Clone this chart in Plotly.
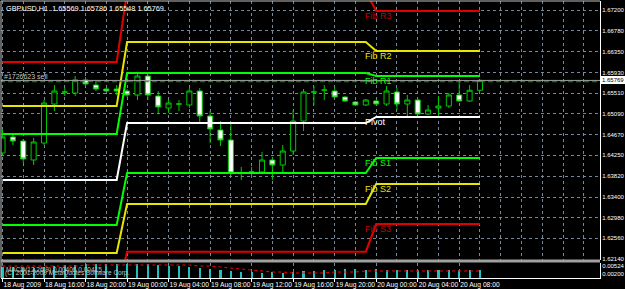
import plotly.graph_objects as go

W, H = 625, 289

# ---------------- data ----------------
bar_index = list(range(47))
opens  = [1.64294,1.64619,1.64538,1.64152,1.64497,1.65290,1.65534,1.65513,1.65778,1.65676,1.65595,1.65595,
          1.65554,1.65473,1.65859,1.65452,1.65209,1.65290,1.65270,1.65554,1.65046,1.64762,1.64558,1.63888,
          1.63908,1.63908,1.64152,1.64050,1.64335,1.64944,1.65534,1.65574,1.65554,1.65432,1.65331,1.65270,
          1.65351,1.65290,1.65534,1.65290,1.65371,1.65087,1.65209,1.65249,1.65473,1.65351,1.65569]
highs  = [1.64782,1.64660,1.64579,1.64599,1.65371,1.65676,1.65635,1.65859,1.65839,1.65757,1.65615,1.65676,
          1.65595,1.65900,1.65880,1.65554,1.65371,1.65371,1.65615,1.65615,1.65148,1.64944,1.64904,1.64010,
          1.64010,1.64315,1.64213,1.64457,1.65168,1.65595,1.65656,1.65676,1.65635,1.65452,1.65351,1.65391,
          1.65371,1.65656,1.65615,1.65473,1.65412,1.65270,1.65452,1.65513,1.65778,1.65676,1.65786]
lows   = [1.64254,1.64457,1.64091,1.64050,1.64457,1.65148,1.65452,1.65452,1.65656,1.65554,1.65534,1.65473,
          1.65432,1.65371,1.65371,1.65107,1.65107,1.65148,1.65209,1.64904,1.64497,1.64436,1.63847,1.63746,
          1.63786,1.63888,1.63746,1.63908,1.64254,1.64741,1.65270,1.65371,1.65412,1.65331,1.65249,1.65249,
          1.65270,1.65249,1.65168,1.65046,1.65066,1.65066,1.65046,1.65209,1.65331,1.65331,1.65548]
closes = [1.64619,1.64538,1.64172,1.64518,1.65310,1.65554,1.65534,1.65778,1.65696,1.65595,1.65554,1.65554,
          1.65473,1.65859,1.65473,1.65229,1.65310,1.65290,1.65554,1.65046,1.64782,1.64558,1.63888,1.63888,
          1.63908,1.64152,1.64050,1.64335,1.64944,1.65534,1.65534,1.65574,1.65432,1.65351,1.65270,1.65371,
          1.65290,1.65554,1.65290,1.65371,1.65087,1.65168,1.65249,1.65473,1.65351,1.65569,1.65769]

# daily Fibonacci pivot levels (18 Aug, 19 Aug, 20 Aug) and first bar of each day
day_first_bar = [0, 12, 36]
fib_r3 = [1.66143, 1.67566, 1.67180]
fib_r2 = [1.65249, 1.66550, 1.66367]
fib_r1 = [1.64680, 1.65920, 1.65859]
pivot  = [1.63746, 1.64904, 1.65026]
fib_s1 = [1.62831, 1.63888, 1.64193]
fib_s2 = [1.62262, 1.63258, 1.63664]
fib_s3 = [1.61348, 1.62290, 1.62851]

bid_price = 1.65769
sell_order_price = 1.65743

price_ticks = [1.67200,1.66780,1.66350,1.65930,1.65510,1.65090,1.64670,1.64250,1.63820,1.63400,1.62980,1.62560,1.62140]
time_tick_bars = [0,4,8,12,16,20,24,28,32,36,40,44]
time_tick_labels = ["18 Aug 2009","18 Aug 16:00","18 Aug 20:00","19 Aug 00:00","19 Aug 04:00","19 Aug 08:00",
                    "19 Aug 12:00","19 Aug 16:00","19 Aug 20:00","20 Aug 00:00","20 Aug 04:00","20 Aug 08:00"]

macd_hist = [0.00484,0.00484,0.00443,0.00443,0.00484,0.00524,0.00565,0.00565,0.00605,0.00605,0.00605,0.00605,
             0.00605,0.00605,0.00605,0.00565,0.00524,0.00524,0.00484,0.00443,0.00403,0.00362,0.00322,0.00281,
             0.00281,0.00241,0.00281,0.00241,0.00281,0.00322,0.00322,0.00362,0.00362,0.00403,0.00403,0.00362,
             0.00403,0.00362,0.00362,0.00362,0.00362,0.00362,0.00362,0.00362,0.00362,0.00362,0.00362]
macd_signal = [0.00524,0.00524,0.00524,0.00524,0.00524,0.00524,0.00524,0.00524,0.00565,0.00565,0.00565,0.00565,
               0.00565,0.00565,0.00565,0.00565,0.00565,0.00565,0.00565,0.00524,0.00524,0.00484,0.00443,0.00403,
               0.00362,0.00322,0.00281,0.00281,0.00241,0.00241,0.00241,0.00241,0.00281,0.00281,0.00281,0.00322,
               0.00322,0.00322,0.00322,0.00322,0.00322,0.00322,0.00322,0.00322,0.00322,0.00322,0.00322]
macd_ticks = [0.00524, 0.00200]

# ---------------- helpers ----------------
def px_x(p): return p / W
def px_y(p): return 1 - p / H

def per_bar(levels):
    out = []
    for i in bar_index:
        d = 0
        for k, s in enumerate(day_first_bar):
            if i >= s:
                d = k
        out.append(levels[d])
    return out

FONT = "Liberation Sans"
GREEN = "#00c800"
AXFONT = 6

fig = go.Figure()

# pivot lines
level_styles = [(fib_r3, "#e00000", "Fib R3"), (fib_r2, "#e6e600", "Fib R2"), (fib_r1, "#00ff00", "Fib R1"),
                (pivot, "#ffffff", "Pivot"), (fib_s1, "#00ff00", "Fib S1"), (fib_s2, "#e6e600", "Fib S2"),
                (fib_s3, "#e00000", "Fib S3")]
for lv, col, name in level_styles:
    fig.add_trace(go.Scatter(x=bar_index, y=per_bar(lv), mode="lines",
                             line=dict(color=col, width=2), xaxis="x", yaxis="y",
                             hoverinfo="skip", showlegend=False))

# bid line and order line
fig.add_trace(go.Scatter(x=[-1, 60], y=[bid_price, bid_price], mode="lines",
                         line=dict(color="#a0a0a0", width=1), xaxis="x", yaxis="y",
                         hoverinfo="skip", showlegend=False))
fig.add_trace(go.Scatter(x=[-1, 60], y=[sell_order_price, sell_order_price], mode="lines",
                         line=dict(color="#00a000", width=1, dash="5px,3px"), xaxis="x", yaxis="y",
                         hoverinfo="skip", showlegend=False))

# candles
fig.add_trace(go.Candlestick(x=bar_index, open=opens, high=highs, low=lows, close=closes,
                             increasing=dict(line=dict(color=GREEN, width=1), fillcolor="#000000"),
                             decreasing=dict(line=dict(color=GREEN, width=1), fillcolor="#ffffff"),
                             whiskerwidth=0, xaxis="x", yaxis="y", showlegend=False, hoverinfo="skip"))

# MACD
fig.add_trace(go.Bar(x=bar_index, y=macd_hist, width=0.2, marker=dict(color="#20c0c0", line=dict(width=0)),
                     xaxis="x2", yaxis="y2", showlegend=False, hoverinfo="skip"))
fig.add_trace(go.Scatter(x=bar_index, y=macd_signal, mode="lines",
                         line=dict(color="#ff0000", width=1, dash="dot"),
                         xaxis="x2", yaxis="y2", showlegend=False, hoverinfo="skip"))

xr = [(1 - 2.5) / 10.38, (600 - 2.5) / 10.38]
grid = dict(showgrid=True, gridcolor="#778899", gridwidth=1, griddash="dot")

fig.update_layout(
    width=W, height=H, margin=dict(l=0, r=0, t=0, b=0, autoexpand=False),
    paper_bgcolor="#000000", plot_bgcolor="#000000",
    font=dict(family=FONT, size=7, color="#ffffff"),
    showlegend=False, bargap=0,
    xaxis=dict(domain=[px_x(1), px_x(600)], range=xr, anchor="y", tickvals=list(range(0, 60, 2)),
               showticklabels=False, ticks="", zeroline=False, rangeslider=dict(visible=False),
               automargin=False, **grid),
    yaxis=dict(domain=[px_y(260), px_y(1)], range=[1.62120, 1.67383], side="right", anchor="x",
               tickvals=price_ticks, ticktext=[f"{v:.5f}" for v in price_ticks],
               ticks="", showline=True, linecolor="#ffffff",
               zeroline=False, automargin=False,
               tickfont=dict(size=AXFONT, color="#ffffff", family=FONT), **grid),
    xaxis2=dict(domain=[px_x(1), px_x(600)], range=xr, anchor="y2", matches="x",
                tickvals=time_tick_bars, ticktext=time_tick_labels, ticklabelposition="outside right",
                tickangle=0, ticks="outside", ticklen=3, tickcolor="#ffffff", showline=True, linecolor="#ffffff",
                tickfont=dict(size=6.7, color="#ffffff", family=FONT), zeroline=False, automargin=False,
                showgrid=True, gridcolor="#778899", griddash="dot"),
    yaxis2=dict(domain=[px_y(278), px_y(263)], range=[0.00038, 0.00646], side="right", anchor="x2",
                tickvals=macd_ticks, ticktext=[f"{v:.5f}" for v in macd_ticks],
                ticks="", showline=True, linecolor="#ffffff",
                zeroline=False, showgrid=False, automargin=False,
                tickfont=dict(size=AXFONT, color="#ffffff", family=FONT)),
)

# frame & separator
fig.add_shape(type="line", xref="paper", yref="paper", x0=px_x(1), x1=px_x(600), y0=px_y(1), y1=px_y(1),
              line=dict(color="#c0c0c0", width=1))
fig.add_shape(type="line", xref="paper", yref="paper", x0=px_x(1), x1=px_x(1), y0=px_y(1), y1=px_y(278),
              line=dict(color="#c0c0c0", width=1))
fig.add_shape(type="rect", xref="paper", yref="paper", x0=px_x(1), x1=px_x(600), y0=px_y(262.5), y1=px_y(259.5),
              line=dict(width=0), fillcolor="#a0a0a0")

# pivot labels
for lv, col, name in level_styles:
    fig.add_annotation(x=34.7, y=lv[2], xref="x", yref="y", text=name, showarrow=False,
                       xanchor="left", yanchor="top", yshift=2,
                       font=dict(size=9, color=col if name not in ("Fib R3", "Fib S3") else "#c80000", family=FONT))

# texts
fig.add_annotation(x=px_x(4), y=px_y(2), xref="paper", yref="paper", showarrow=False, xanchor="left", yanchor="top",
                   text="GBPUSD,H1  1.65569 1.65786 1.65548 1.65769", font=dict(size=7.3, color="#ffffff", family=FONT))
fig.add_annotation(x=-0.05, y=sell_order_price, xref="x", yref="y", showarrow=False, xanchor="left", yanchor="bottom",
                   yshift=0, text="#1726623 sell", font=dict(size=7, color="#c0c0c0", family=FONT))
fig.add_annotation(x=px_x(600.5), y=bid_price, xref="paper", yref="y", showarrow=False, xanchor="left",
                   text="1.65769", bgcolor="#ffffff", bordercolor="#ffffff", borderpad=0,
                   font=dict(size=AXFONT, color="#000000", family=FONT))
fig.add_annotation(x=px_x(4), y=px_y(263.5), xref="paper", yref="paper", showarrow=False, xanchor="left", yanchor="top",
                   text="MACD(12,26,9) 0.00406 0.00415", font=dict(size=6.5, color="#c0c0c0", family=FONT))
fig.add_annotation(x=px_x(3), y=px_y(267), xref="paper", yref="paper", showarrow=False, xanchor="left", yanchor="top",
                   text="(C) 2001-2009 MetaQuotes Software Corp.", font=dict(size=6.5, color="#c0c0c0", family=FONT))

fig.write_html("out.html")
